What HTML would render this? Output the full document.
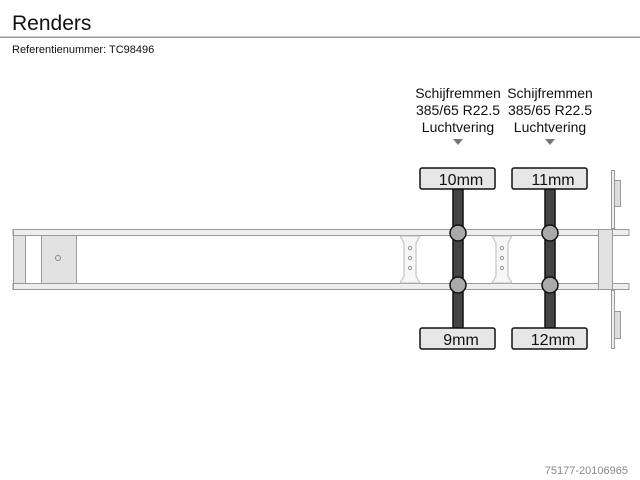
<!DOCTYPE html>
<html><head><style>
body{margin:0;width:640px;height:480px;background:#fff;overflow:hidden}
svg{display:block}
text{font-family:"Liberation Sans",sans-serif}
</style></head><body>
<svg width="640" height="480" viewBox="0 0 640 480">
<text x="12" y="30" font-size="21" fill="#111">Renders</text>
<rect x="0" y="36.5" width="640" height="1.5" fill="#999"/>
<text x="12" y="53" font-size="11" fill="#111">Referentienummer: TC98496</text>
<g font-size="14" fill="#111" text-anchor="middle" textLength="90">
<text x="458" y="98">Schijfremmen</text><text x="458" y="115">385/65 R22.5</text><text x="458" y="132">Luchtvering</text>
<text x="550" y="98">Schijfremmen</text><text x="550" y="115">385/65 R22.5</text><text x="550" y="132">Luchtvering</text>
</g>
<polygon points="453,139 463,139 458,145" fill="#777"/>
<polygon points="545,139 555,139 550,145" fill="#777"/>
<!-- chassis -->
<g stroke="#999" stroke-width="1">
<rect x="13" y="229.5" width="616" height="6" fill="#eee"/>
<rect x="13" y="283.5" width="616" height="6" fill="#eee"/>
<rect x="13.5" y="235.5" width="12" height="48" fill="#e2e2e2"/>
<rect x="41.5" y="235.5" width="35" height="48" fill="#e2e2e2"/>
<line x1="13.5" y1="229" x2="13.5" y2="290"/>
<rect x="598.5" y="229.5" width="14" height="60" fill="#e2e2e2"/>
<rect x="611.5" y="170.5" width="3" height="58" fill="#eee"/>
<rect x="611.5" y="290.5" width="3" height="58" fill="#eee"/>
<rect x="614.5" y="180.5" width="6" height="26" fill="#ddd"/>
<rect x="614.5" y="311.5" width="6" height="27" fill="#ddd"/>
</g>
<circle cx="58" cy="258" r="2.5" fill="none" stroke="#888"/>
<g stroke="#bbb" fill="#f7f7f7">
<path d="M400,236 L420,236 L416,243 L416,276 L420,283 L400,283 L404,276 L404,243 Z"/>
<path d="M492,236 L512,236 L508,243 L508,276 L512,283 L492,283 L496,276 L496,243 Z"/>
</g>
<g fill="none" stroke="#999">
<circle cx="410" cy="248" r="1.6"/><circle cx="410" cy="258" r="1.6"/><circle cx="410" cy="268" r="1.6"/>
<circle cx="502" cy="248" r="1.6"/><circle cx="502" cy="258" r="1.6"/><circle cx="502" cy="268" r="1.6"/>
</g>
<!-- axles -->
<g stroke="#111" stroke-width="1.5">
<rect x="453" y="189" width="10" height="139" fill="#444"/>
<rect x="545" y="189" width="10" height="139" fill="#444"/>
<rect x="420" y="168" width="75" height="21" rx="2" fill="#e6e6e6"/>
<rect x="512" y="168" width="75" height="21" rx="2" fill="#e6e6e6"/>
<rect x="420" y="328" width="75" height="21" rx="2" fill="#e6e6e6"/>
<rect x="512" y="328" width="75" height="21" rx="2" fill="#e6e6e6"/>
<circle cx="458" cy="233" r="8" fill="#aaa"/>
<circle cx="458" cy="285" r="8" fill="#aaa"/>
<circle cx="550" cy="233" r="8" fill="#aaa"/>
<circle cx="550" cy="285" r="8" fill="#aaa"/>
</g>
<g font-size="16" fill="#111" text-anchor="middle">
<text x="461" y="185">10mm</text><text x="553" y="185">11mm</text>
<text x="461" y="345">9mm</text><text x="553" y="345">12mm</text>
</g>
<text x="628" y="474" font-size="11" fill="#888" text-anchor="end">75177-20106965</text>
</svg>
</body></html>
